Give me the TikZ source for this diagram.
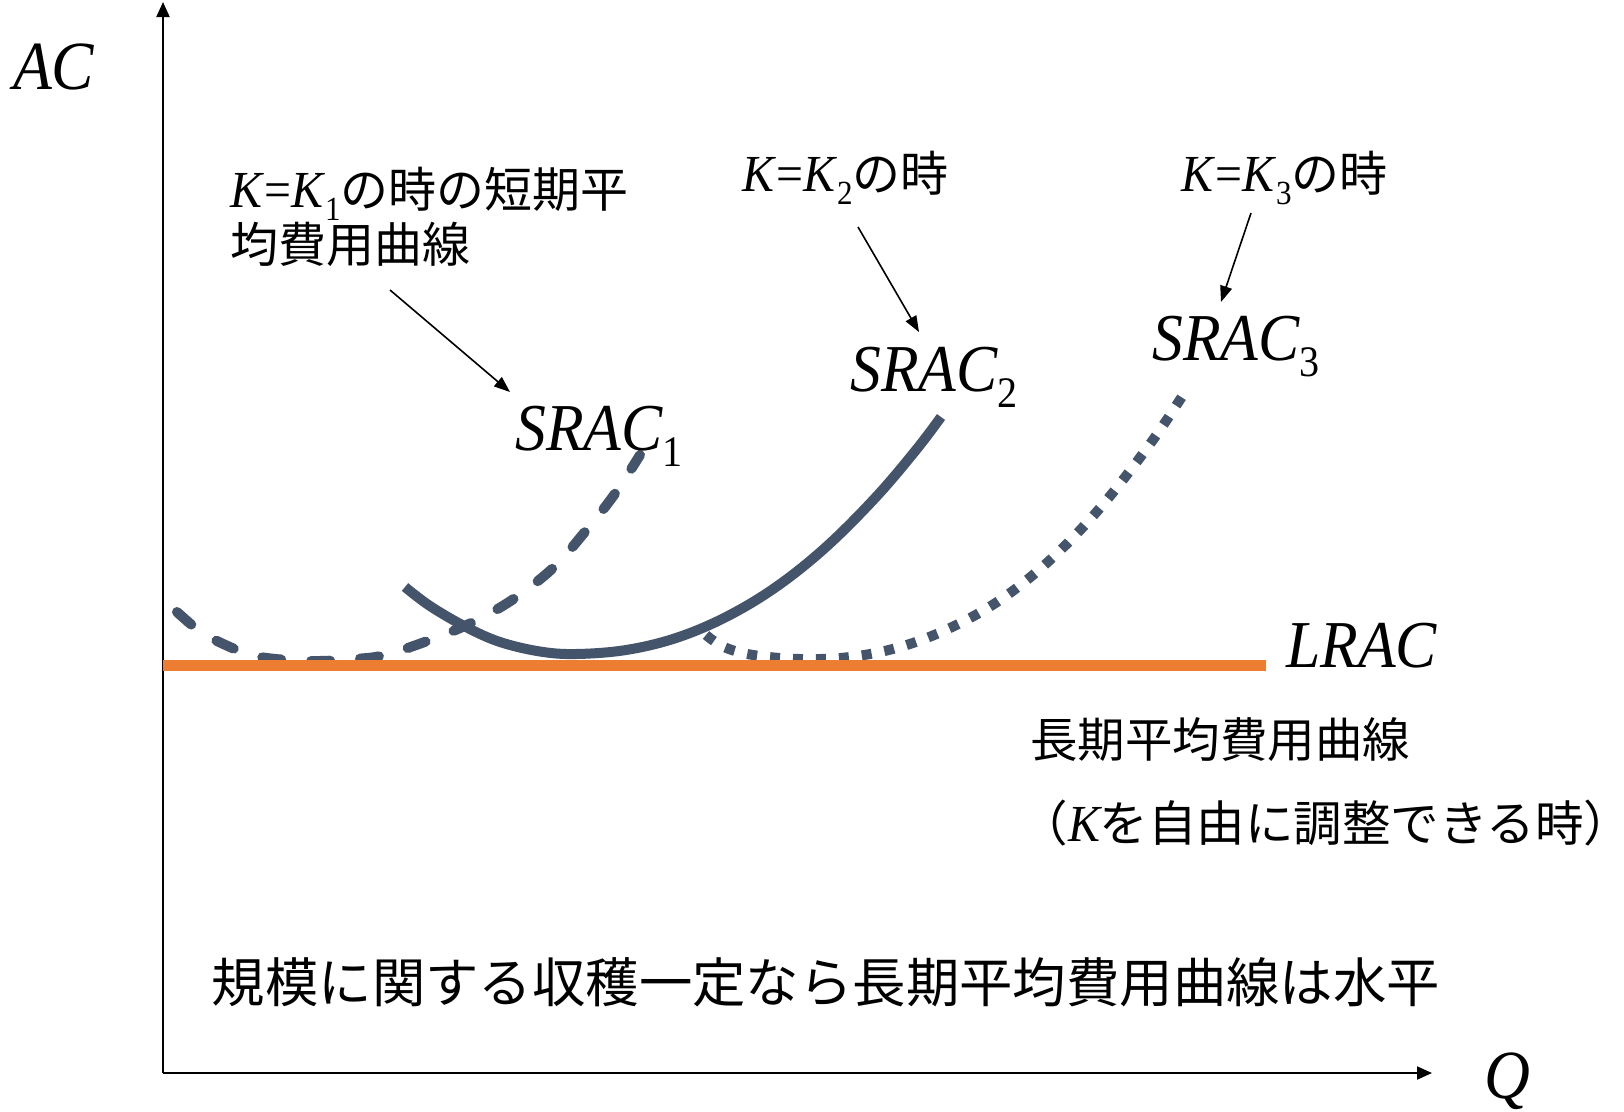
\documentclass[tikz,border=0pt]{standalone}
\usepackage{fontspec}
\usepackage{graphicx}
\setmainfont{Liberation Serif}
\newfontfamily\lat[FakeStretch=0.92]{Liberation Serif}
\newfontfamily\jp{Noto Sans CJK JP}
\usetikzlibrary{arrows.meta}
\definecolor{curvecol}{HTML}{44546A}
\definecolor{lraccol}{HTML}{ED7D31}
\newcommand\sbs[1]{\raisebox{-0.25em}{\scalebox{0.65}{#1}}}
\newcommand\KK[1]{{\fontsize{52}{56}\selectfont\lat\textit{K}=\textit{K}\sbs{#1}}}
\tikzset{
  axisline/.style={line width=2pt, -{Triangle[length=15pt,width=13pt]}},
  pointer/.style={line width=1.6pt, -{Triangle[length=16pt,width=12pt]}},
  curvebase/.style={line width=10pt, draw=curvecol},
  varlbl/.style={inner sep=0pt, anchor=base west, font=\fontsize{67}{72}\selectfont\lat\itshape},
  jlbl/.style={inner sep=0pt, anchor=base west, font=\fontsize{48}{55}\selectfont\jp},
  jcent/.style={inner sep=0pt, anchor=base, font=\fontsize{48.5}{54}\selectfont\jp},
}
\begin{document}
\begin{tikzpicture}[x=1pt,y=-1pt]
\useasboundingbox (0,0) rectangle (1624,1111);
\fill[white] (0,0) rectangle (1624,1111);

% axes
\coordinate (O) at (163,1073);
\coordinate (ytop) at (163,2);
\coordinate (xend) at (1432,1073);
\draw[axisline] (O) -- (ytop);
\draw[axisline] (O) -- (xend);
\node[varlbl, font=\fontsize{69}{72}\selectfont\lat\itshape] (AC) at (13,89) {AC};
\node[inner sep=0pt, anchor=base, font=\fontsize{69}{72}\selectfont\lat\itshape] (Q) at (1507,1098) {Q};

% SRAC1 dashed
\draw[curvebase, line cap=round, dash pattern=on 19pt off 30pt]
  plot[smooth, tension=0.6] coordinates {(177,612) (198,630) (215,640) (242,652) (260,657) (288,660) (320,661) (355,659) (385,655) (430,640) (471,623) (512,600) (553,568) (584,533) (614,495) (640,455)};
% SRAC2 solid
\draw[curvebase]
  plot[smooth, tension=0.6] coordinates {(405,587) (430,606) (466,627) (500,642) (540,651.5) (576,654) (626,650) (676,638) (726,617) (776,587) (826,547) (876,497) (916,450) (941,417)};
% SRAC3 dotted
\draw[curvebase, line cap=butt, dash pattern=on 10pt off 13pt]
  plot[smooth, tension=0.6] coordinates {(706,635) (724,647) (753,655) (800,659) (850,657) (900,647) (950,628) (1000,600) (1050,560) (1100,508) (1150,444) (1183,395)};

% LRAC
\coordinate (L0) at (163,665);
\coordinate (L1) at (1266,665);
\draw[lraccol, line width=11pt] (L0) -- (L1);

% labels
\node[varlbl] (S1) at (515,450) {SRAC\sbs{\upshape 1}};
\node[varlbl] (S2) at (850,391) {SRAC\sbs{\upshape 2}};
\node[varlbl] (S3) at (1152,360) {SRAC\sbs{\upshape 3}};
\node[varlbl] (LR) at (1286,667) {LRAC};

\node[jlbl, align=left] (K1) at (230,262) {\KK{1}の時の短期平\\均費用曲線};
\node[jlbl] (K2) at (742,191) {\KK{2}の時};
\node[jlbl] (K3) at (1181,191) {\KK{3}の時};

\node[jcent, font=\fontsize{47.5}{54}\selectfont\jp] (LRname) at (1220,757) {長期平均費用曲線};
\node[jcent] (LRcond) at (1326,841) {\kern-0.45em（{\fontsize{52}{54}\selectfont\lat\itshape K}を自由に調整できる時）\kern-0.45em};
\node[inner sep=0pt, anchor=base, font=\fontsize{53.4}{60}\selectfont\jp] (note) at (826,1002) {規模に関する収穫一定なら長期平均費用曲線は水平};

% pointers
\coordinate (a1s) at (390,290);
\coordinate (a1e) at (510,392);
\coordinate (a2s) at (858,227);
\coordinate (a2e) at (919,332);
\coordinate (a3s) at (1251,213);
\coordinate (a3e) at (1221,302);
\draw[pointer] (a1s) -- (a1e);
\draw[pointer] (a2s) -- (a2e);
\draw[pointer] (a3s) -- (a3e);
\end{tikzpicture}
\end{document}
